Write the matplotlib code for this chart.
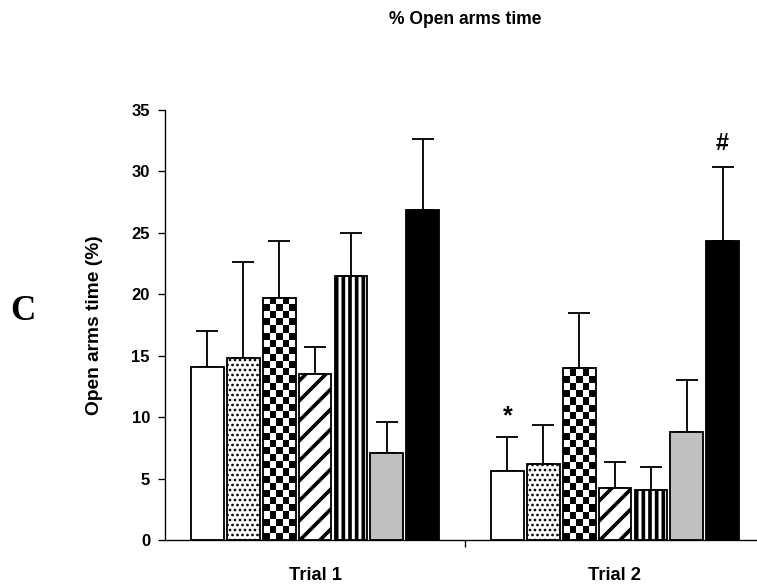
import numpy as np
import matplotlib
matplotlib.use("Agg")
import matplotlib.pyplot as plt

plt.rcParams['font.family'] = ['Liberation Sans', 'DejaVu Sans']
plt.rcParams['hatch.linewidth'] = 2.2

trials = ["Trial 1", "Trial 2"]
means_t1 = [14.05, 14.8, 19.7, 13.5, 21.5, 7.1, 26.9]
errs_t1 = [2.95, 7.8, 4.6, 2.2, 3.5, 2.5, 5.7]
means_t2 = [5.65, 6.2, 14.0, 4.2, 4.05, 8.8, 24.3]
errs_t2 = [2.75, 3.2, 4.5, 2.15, 1.9, 4.2, 6.1]
yticks = [0, 5, 10, 15, 20, 25, 30, 35]

styles = [
    dict(fc="white", hatch=None),
    dict(fc="white", hatch="...."),
    dict(fc="checker", hatch=None),
    dict(fc="white", hatch="//"),
    dict(fc="white", hatch="|||"),
    dict(fc="#c0c0c0", hatch=None),
    dict(fc="black", hatch=None),
]

DPI = 120
fig = plt.figure(figsize=(757 / DPI, 585 / DPI), dpi=DPI)
ax = fig.add_axes([165 / 757, 45 / 585, 600 / 757, 430 / 585])

pitch = 0.1195
width = 0.109
xg = np.arange(len(trials))
data = [means_t1, means_t2]
errs = [errs_t1, errs_t2]

ax.set_xlim(-0.5, 1.5)
ax.set_ylim(0, 35)

for g in range(len(trials)):
    for i in range(7):
        x = xg[g] + (i - 3) * pitch
        m = data[g][i]
        e = errs[g][i]
        st = styles[i]
        if st["fc"] == "checker":
            b = ax.bar(x, m, width=width, facecolor="none", edgecolor="black",
                       linewidth=1.1, zorder=3)[0]
            sq_y = 0.58
            ny = int(np.ceil(m / sq_y))
            nx = 5
            arr = (np.add.outer(np.arange(ny), np.arange(nx)) % 2).astype(float)
            im = ax.imshow(arr, cmap="gray", vmin=0, vmax=1, origin="lower",
                           extent=(x - width / 2, x + width / 2, 0, ny * sq_y),
                           aspect="auto", interpolation="nearest", zorder=2)
            im.set_clip_path(b)
        else:
            b = ax.bar(x, m, width=width, facecolor=st["fc"], edgecolor="black",
                       linewidth=1.1, hatch=st["hatch"], zorder=2)[0]
            if st["hatch"] == "....":
                try:
                    b.set_hatch_linewidth(1.0)
                except AttributeError:
                    pass
        ax.errorbar(x, m, yerr=[[0], [e]], fmt="none", ecolor="black",
                    elinewidth=1.1, capsize=6.5, capthick=1.1, zorder=1)

ax.set_xlim(-0.5, 1.5)
ax.set_ylim(0, 35)

# significance markers
ax.text(xg[1] - 3 * pitch, means_t2[0] + errs_t2[0] + 0.7, "*", ha="center",
        va="bottom", fontsize=15, fontweight="bold")
ax.text(xg[1] + 3 * pitch, means_t2[6] + errs_t2[6] + 0.9, "#",
        ha="center", va="bottom", fontsize=14, fontweight="bold")

ax.spines["top"].set_visible(False)
ax.spines["right"].set_visible(False)
ax.spines["left"].set_linewidth(0.8)
ax.spines["bottom"].set_linewidth(0.8)

ax.set_yticks(yticks)
ax.set_yticklabels([str(v) for v in yticks], fontsize=10, fontweight="bold")
ax.tick_params(axis="y", length=4, width=0.8, pad=5)

ax.set_xticks([0.5])
ax.set_xticklabels([""])
ax.tick_params(axis="x", length=4, width=0.8)
for g, lab in enumerate(trials):
    ax.text(xg[g], -2.2, lab, ha="center", va="top", fontsize=11,
            fontweight="bold", transform=ax.transData, clip_on=False)

ax.set_ylabel("Open arms time (%)", fontsize=11.5, fontweight="bold", labelpad=17)

fig.text(465 / 757, 1 - 20 / 585, "% Open arms time", ha="center", va="center",
         fontsize=10.5, fontweight="bold")
fig.text(23 / 757, 1 - 312 / 585, "C", ha="center", va="center",
         fontsize=21, fontweight="bold", family="Liberation Serif")

fig.savefig("out.png", dpi=DPI)
